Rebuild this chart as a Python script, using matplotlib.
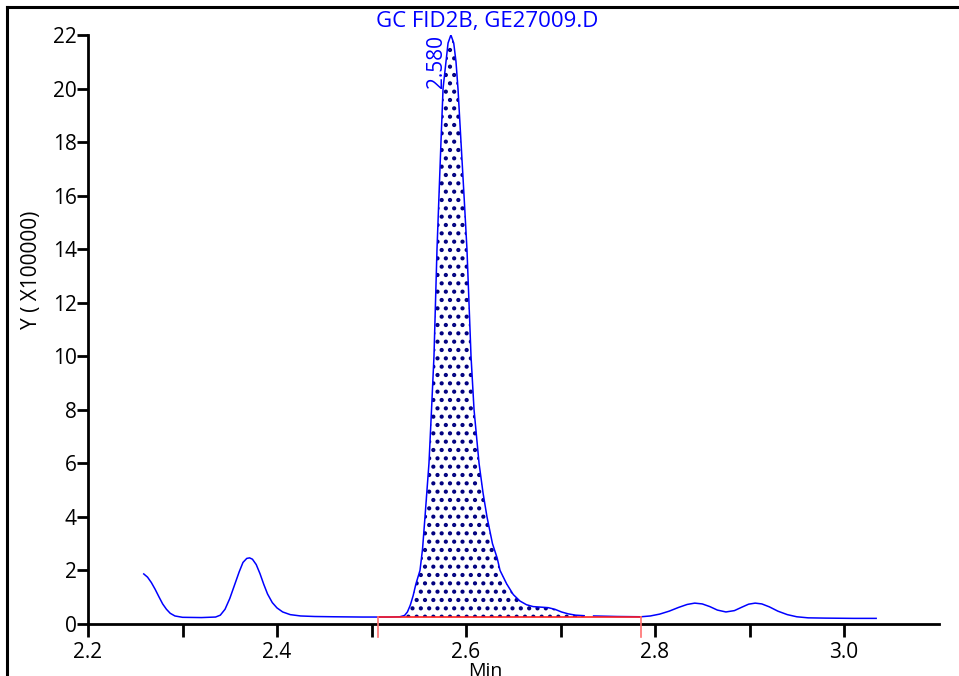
import numpy as np
import matplotlib
matplotlib.use('Agg')
import matplotlib.pyplot as plt
from matplotlib.lines import Line2D

plt.rcParams['font.family'] = ['Open Sans', 'DejaVu Sans']
plt.rcParams['hatch.color'] = '#000080'
plt.rcParams['hatch.linewidth'] = 1.8

# chromatogram trace, first segment (min, Y x100000)
time_a = [2.259, 2.263, 2.267, 2.271, 2.275, 2.279, 2.283, 2.287, 2.292, 2.300,
          2.320, 2.335, 2.340, 2.345, 2.350, 2.355, 2.360, 2.364, 2.368, 2.371,
          2.374, 2.378, 2.382, 2.386, 2.390, 2.395, 2.400, 2.406, 2.414, 2.425,
          2.440, 2.460, 2.490, 2.520, 2.530, 2.535, 2.538, 2.541, 2.544, 2.547,
          2.5513, 2.554, 2.5566, 2.5587, 2.5608, 2.5635, 2.5661, 2.5693, 2.5714, 2.5735,
          2.5757, 2.5788, 2.581, 2.584, 2.587, 2.5894, 2.5915, 2.5947, 2.5979, 2.601,
          2.6053, 2.6085, 2.6138, 2.618, 2.6222, 2.628, 2.633, 2.636, 2.643, 2.650,
          2.657, 2.664, 2.671, 2.679, 2.687, 2.694, 2.701, 2.708, 2.716, 2.725]
signal_a = [1.87, 1.75, 1.55, 1.30, 1.02, 0.75, 0.55, 0.40, 0.30, 0.25,
            0.24, 0.26, 0.33, 0.55, 0.95, 1.45, 1.95, 2.30, 2.45, 2.47,
            2.42, 2.22, 1.88, 1.48, 1.12, 0.80, 0.60, 0.45, 0.35, 0.30,
            0.28, 0.27, 0.26, 0.26, 0.27, 0.32, 0.45, 0.70, 1.05, 1.50,
            2.00, 2.80, 4.00, 5.00, 6.00, 8.00, 10.0, 14.0, 16.0, 18.0,
            20.0, 21.0, 21.7, 22.0, 21.7, 21.0, 20.0, 18.0, 16.0, 14.0,
            10.0, 8.0, 6.0, 4.9, 4.0, 3.0, 2.46, 2.0, 1.5, 1.1,
            0.86, 0.72, 0.65, 0.63, 0.61, 0.55, 0.45, 0.38, 0.33, 0.31]

# second segment after the gap
time_b = [2.735, 2.760, 2.785, 2.795, 2.805, 2.815, 2.825, 2.834, 2.842, 2.850,
          2.858, 2.866, 2.875, 2.884, 2.892, 2.899, 2.906, 2.913, 2.921, 2.930,
          2.940, 2.950, 2.962, 2.980, 3.010, 3.034]
signal_b = [0.30, 0.28, 0.27, 0.30, 0.37, 0.48, 0.62, 0.73, 0.78, 0.75,
            0.65, 0.52, 0.45, 0.50, 0.63, 0.74, 0.78, 0.75, 0.64, 0.48,
            0.35, 0.27, 0.23, 0.22, 0.21, 0.21]

peak_rt = 2.581
peak_label = '2.580'
integ_start = 2.507
integ_end = 2.785
integ_base = 0.26

fig = plt.figure(figsize=(9.59, 6.76), dpi=100)
ax = fig.add_axes([88/959, 1-624/676, (939-88)/959, (624-35)/676])

ta = np.array(time_a)
sa = np.array(signal_a)
m = ta >= 2.505
ax.fill_between(ta[m], integ_base, sa[m], facecolor='white', edgecolor='none',
                hatch='..', zorder=1)
ax.plot(time_a, signal_a, color='#0000ff', lw=1.1, zorder=3)
ax.plot(time_b, signal_b, color='#0000ff', lw=1.1, zorder=3)

# integration baseline + markers
ax.plot([integ_start, integ_end], [integ_base, integ_base], color='#ff2020', lw=1.2, zorder=5)
for xm in [integ_start, integ_end]:
    ax.plot([xm, xm], [integ_base, -0.5], color='#ff7070', lw=1.2, clip_on=False, zorder=5)

ax.text(peak_rt - 0.001, 22.0, peak_label, rotation=90, ha='right', va='top',
        color='#0000ff', fontsize=15)

ax.set_xlim(2.2, 3.1005)
ax.set_ylim(0, 22)
ax.set_xticks([2.2, 2.4, 2.6, 2.8, 3.0])
ax.set_xticklabels(['2.2', '2.4', '2.6', '2.8', '3.0'])
ax.set_xticks([2.3, 2.5, 2.7, 2.9], minor=True)
ax.set_yticks(range(0, 23, 2))
ax.tick_params(axis='x', which='both', direction='out', length=9, width=2, pad=4, labelsize=15)
ax.tick_params(axis='y', direction='out', length=8, width=2, pad=0, labelsize=15)
for lbl in ax.get_yticklabels():
    lbl.set_verticalalignment('center_baseline')
for s in ['top', 'right']:
    ax.spines[s].set_visible(False)
for s in ['left', 'bottom']:
    ax.spines[s].set_linewidth(2)

ax.set_xlabel('Min', fontsize=14)
ax.xaxis.set_label_coords((485-88)/851, -0.064)
ax.set_ylabel('Y ( X100000)', fontsize=15)
ax.yaxis.set_label_coords((42-88)/851, (624-270)/589)
ax.text((487-88)/851, 1.005, 'GC FID2B, GE27009.D', transform=ax.transAxes,
        color='#0000ff', fontsize=16, ha='center', va='bottom')

# outer frame of the report page
fig.add_artist(Line2D([7/959, 7/959], [0, 1-7/676], color='black', lw=2.2))
fig.add_artist(Line2D([7/959, 1], [1-7/676, 1-7/676], color='black', lw=2.2))

fig.savefig('out.png', dpi=100)
